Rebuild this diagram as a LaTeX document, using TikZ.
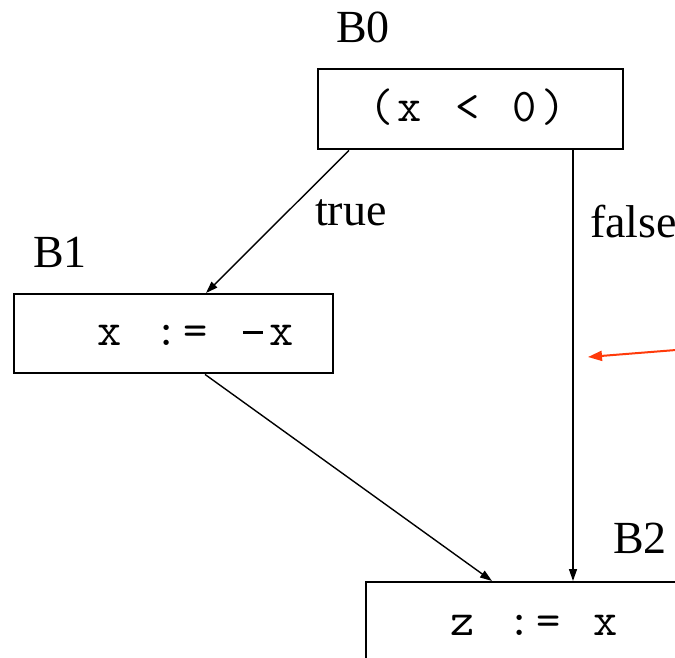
\documentclass[tikz,border=0pt]{standalone}
\usepackage{fontspec}
\setmainfont{Liberation Serif}
\usetikzlibrary{calc,arrows.meta}
\newcommand{\cch}[1]{\makebox[28.7pt]{#1}}
\newcommand{\cdash}{\rule[11pt]{20pt}{2.6pt}}
\begin{document}
\begin{tikzpicture}[x=1pt,y=-1pt,
  blockbox/.style={draw,line width=2.4pt,rectangle,inner sep=0pt,anchor=north west},
  lbl/.style={inner sep=0pt,anchor=base west,font=\fontsize{46}{50}\selectfont},
  code/.style={inner sep=0pt,anchor=base,font=\ttfamily\fontsize{47}{50}\selectfont},
  edge/.style={line width=1.4pt,-{Triangle[length=12pt,width=8pt]}},
  note/.style={line width=2pt,color=notered,-{Triangle[length=14pt,width=10pt]}}]
\definecolor{notered}{HTML}{FF3A0A}
\useasboundingbox (0,0) rectangle (675,658);
\clip (0,0) rectangle (675,658);
\fill[white] (0,0) rectangle (675,658);
% blocks
\node[blockbox,minimum width=305pt,minimum height=80pt] (b0) at (317,68) {};
\node[blockbox,minimum width=319pt,minimum height=79pt] (b1) at (13,293) {};
\node[blockbox,minimum width=360pt,minimum height=120pt] (b2) at (365,581) {};
% code
\node[code] (t0) at (467.5,122) {\cch{(}\cch{x}\cch{}\cch{<}\cch{}\cch{0}\cch{)}};
\node[code] (t1) at (195.5,345) {\cch{x}\cch{}\cch{:}\cch{=}\cch{}\cch{\cdash}\cch{x}};
\node[code] (t2) at (534,635) {\cch{z}\cch{}\cch{:}\cch{=}\cch{}\cch{x}};
% labels
\node[lbl] (l0) at (336,43) {B0};
\node[lbl] (l1) at (33,267) {B1};
\node[lbl] (l2) at (613,553) {B2};
\node[lbl] (ltrue) at (315,225) {true};
\node[lbl] (lfalse) at (590,237) {false};
% edges
\draw[edge] ($(b0.south west)+(32,0)$) -- ($(b1.north west)+(193,0)$);
\draw[edge] ($(b0.south west)+(256,0)$) -- ($(b2.north west)+(208,0)$);
\draw[edge] ($(b1.south west)+(192,0)$) -- ($(b2.north west)+(127,0)$);
% red pointer
\coordinate (rs) at (676,350);
\coordinate (re) at (588,357);
\draw[note] (rs) -- (re);
\end{tikzpicture}
\end{document}
